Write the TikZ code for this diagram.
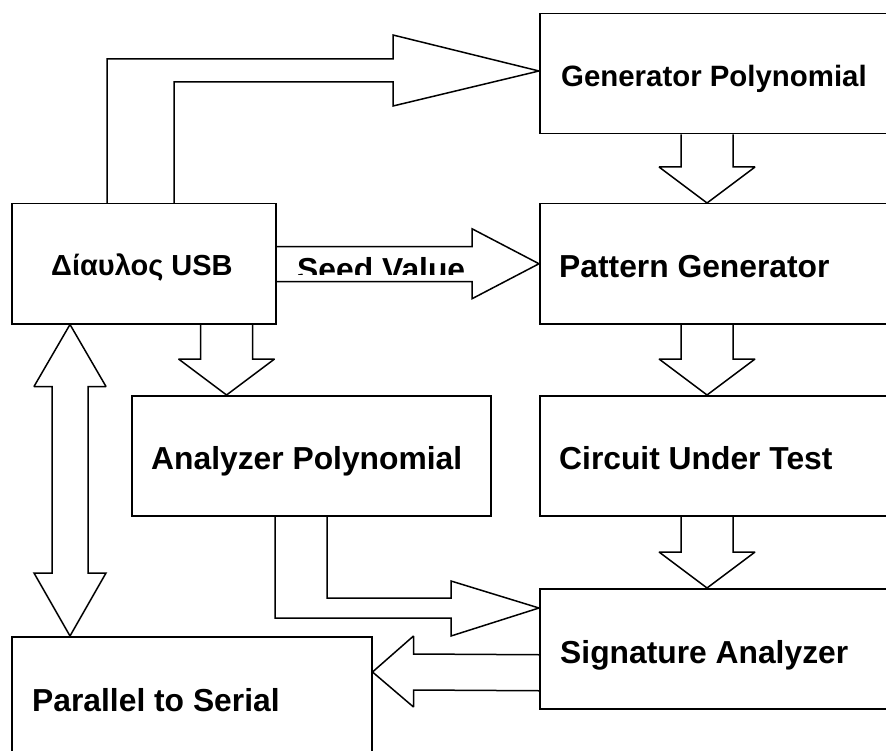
\documentclass[tikz,border=0pt]{standalone}
\usepackage{fontspec}
\setmainfont{Liberation Sans}
\usetikzlibrary{calc}

\tikzset{
  box/.style 2 args={draw, line width=1.5, anchor=north west, inner sep=0,
    minimum width=#1, minimum height=#2},
  lbl/.style={anchor=base west, inner sep=0,
    font=\bfseries\fontsize{31.8}{36}\selectfont},
  lblsmall/.style={lbl, font=\bfseries\fontsize{29.4}{34}\selectfont},
  blk/.style={draw, line width=1.5, line join=miter, miter limit=2}
}

% hollow block arrow pointing down from the bottom of #1 to the top of #2,
% with its axis at x = #3
\newcommand{\blockdown}[3]{%
  \draw[blk] ($(#3,0 |- #1.south)+(-26,0)$)
    -- ($(#3,0 |- #2.north)+(-26,-36)$) -- ++(-22,0)
    -- (#3,0 |- #2.north)
    -- ($(#3,0 |- #2.north)+(48,-36)$) -- ++(-22,0)
    -- ($(#3,0 |- #1.south)+(26,0)$);}

\begin{document}
\begin{tikzpicture}[x=1pt, y=-1pt]
\clip (0,0) rectangle (886,751);
\fill[white] (0,0) rectangle (886,751);

% blocks
\node[box={361}{120}] (gen) at (539,13)  {};
\node[box={361}{120}] (pat) at (539,203) {};
\node[box={361}{120}] (cut) at (539,395) {};
\node[box={361}{120}] (sig) at (539,588) {};
\node[box={264}{120}] (usb) at (11,203)  {};
\node[box={359}{120}] (ana) at (131,395) {};
\node[box={360}{140}] (par) at (11,636)  {};

% block titles
\node[lblsmall] (tgen) at (561,87)  {Generator Polynomial};
\node[lbl]      (tpat) at (559,278) {Pattern Generator};
\node[lbl]      (tcut) at (559,469) {Circuit Under Test};
\node[lbl]      (tsig) at (560,663) {Signature Analyzer};
\node[lbl, font=\bfseries\fontsize{29}{34}\selectfont]
                (tusb) at (51,276)  {Δίαυλος USB};
\node[lbl]      (tana) at (151,469) {Analyzer Polynomial};
\node[lbl]      (tpar) at (32,711)  {Parallel to Serial};

% tips of the bent and horizontal arrows
\coordinate (tipA) at ($(gen.north west)+(0,58)$);
\coordinate (tipB) at (pat.west);
\coordinate (tipC) at ($(sig.north west)+(0,20)$);
\coordinate (tipD) at ($(par.north east)+(0,36)$);
\coordinate (tipE) at ($(usb.south west)+(59,0)$);
\coordinate (tipF) at ($(par.north west)+(59,0)$);

% USB -> Generator Polynomial
\draw[blk] ($(usb.north west)+(96,0)$) |- ($(tipA)+(-146,-12)$) -- ++(0,-24)
  -- (tipA) -- ($(tipA)+(-146,35)$) -- ++(0,-24) -| ($(usb.north west)+(163,0)$);

% USB -> Pattern Generator (seed value)
\draw[blk] ($(usb.east)+(0,-17)$) -- ($(tipB)+(-67,-17)$) -- ++(0,-18)
  -- (tipB) -- ($(tipB)+(-67,35)$) -- ++(0,-17) -- ($(usb.east)+(0,18)$);
\begin{scope}
  \clip (276,247) rectangle (471,275);
  \node[lbl] (tseed) at (297,280) {Seed Value};
\end{scope}

% vertical flow
\blockdown{gen}{pat}{707}
\blockdown{pat}{cut}{707}
\blockdown{cut}{sig}{707}
\blockdown{usb}{ana}{226.5}

% Analyzer Polynomial -> Signature Analyzer
\draw[blk] ($(ana.south west)+(196,0)$) |- ($(tipC)+(-88,-10)$) -- ++(0,-17)
  -- (tipC) -- ($(tipC)+(-88,28)$) -- ++(0,-18) -| ($(ana.south west)+(144,0)$);

% Signature Analyzer -> Parallel to Serial
\draw[blk] ($(sig.west)+(0,6)$) -- ($(tipD)+(41,-18)$) -- ++(0,-18)
  -- (tipD) -- ($(tipD)+(41,35)$) -- ++(0,-17) -- ($(sig.west)+(0,42)$);

% USB <-> Parallel to Serial
\draw[blk] (tipE) -- ($(tipE)+(36,62)$) -- ++(-18,0) -- ($(tipF)+(18,-63)$)
  -- ++(18,0) -- (tipF) -- ($(tipF)+(-36,-63)$) -- ++(18,0)
  -- ($(tipE)+(-18,62)$) -- ++(-18,0) -- cycle;
\end{tikzpicture}
\end{document}
